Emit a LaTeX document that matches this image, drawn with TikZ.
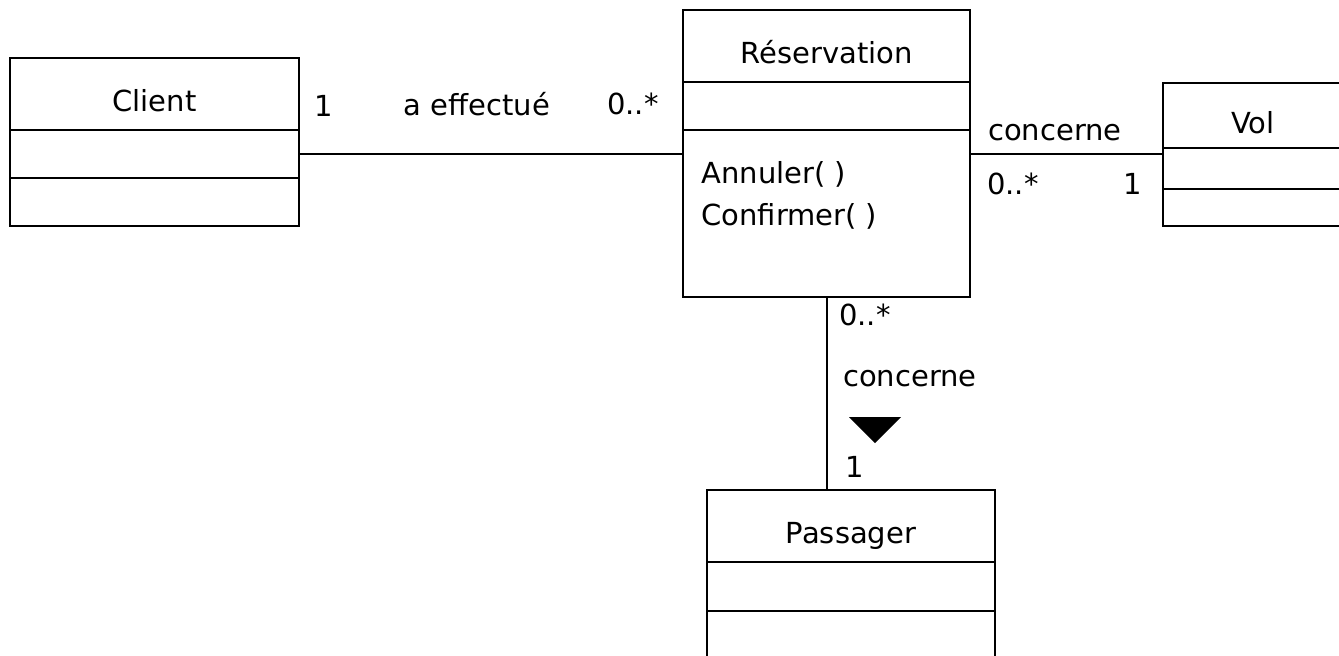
\documentclass[tikz,border=0pt]{standalone}
\usepackage{fontspec}
\setmainfont{DejaVu Sans}
\usetikzlibrary{positioning}
\newcommand{\umlfont}{\fontsize{14.5}{21}\selectfont}
\tikzset{
  compart/.style={draw, line width=1pt, inner sep=0pt, outer sep=0pt, font=\umlfont},
  classname/.style={compart, text height=17.5pt, text depth=0pt, anchor=north},
  assoc/.style={line width=1pt},
  lbl/.style={font=\umlfont, inner sep=0pt},
  ops/.style={font=\umlfont, align=left, inner sep=0pt, anchor=north west}
}
\begin{document}
\begin{tikzpicture}[x=0.5pt, y=-0.5pt]
        \clip (0,0) rectangle (1339,655);
        \fill[white] (0,0) rectangle (1339,655);
        % Client
        \node[classname, minimum width=144.5pt, minimum height=36pt] (client) at (154.5,58) {Client};
        \node[compart, minimum width=144.5pt, minimum height=24pt, below=0pt of client] (clientattr) {};
        \node[compart, minimum width=144.5pt, minimum height=24pt, below=0pt of clientattr] (clientops) {};
        % Reservation
        \node[classname, minimum width=143.5pt, minimum height=36pt] (res) at (826.5,10) {Réservation};
        \node[compart, minimum width=143.5pt, minimum height=24pt, below=0pt of res] (resattr) {};
        \node[compart, minimum width=143.5pt, minimum height=83.5pt, below=0pt of resattr] (resops) {};
        \node[ops] (resmeth) at (701,161) {Annuler( )\\Confirmer( )};
        % Vol
        \node[classname, minimum width=90pt, minimum height=32.5pt] (vol) at (1253,83) {Vol};
        \node[compart, minimum width=90pt, minimum height=20.5pt, below=0pt of vol] (volattr) {};
        \node[compart, minimum width=90pt, minimum height=18.5pt, below=0pt of volattr] (volops) {};
        % Passager
        \node[classname, minimum width=144pt, minimum height=36pt] (pass) at (851,490) {Passager};
        \node[compart, minimum width=144pt, minimum height=24.5pt, below=0pt of pass] (passattr) {};
        \node[compart, minimum width=144pt, minimum height=24pt, below=0pt of passattr] (passops) {};
        % associations
        \draw[assoc] (clientattr.east) -- (clientattr.east -| resops.west);
        \draw[assoc] (clientattr.east -| resops.east) -- (clientattr.east -| volattr.west);
        \draw[assoc] (resops.south) -- (resops.south |- pass.north);
        % labels
        \node[lbl] (m1) at (324,106) {1};
        \node[lbl] (effectue) at (477,104) {a effectué};
        \node[lbl] (m2) at (633,104) {0..*};
        \node[lbl] (concvol) at (1055,133) {concerne};
        \node[lbl] (m3) at (1013,184) {0..*};
        \node[lbl] (m4) at (1133,184) {1};
        \node[lbl] (m5) at (865,315) {0..*};
        \node[lbl] (concpass) at (910,379) {concerne};
        \fill (849,417) -- (901,417) -- (875,443) -- cycle;
        \node[lbl] (m6) at (855,467) {1};
      \end{tikzpicture}
\end{document}
